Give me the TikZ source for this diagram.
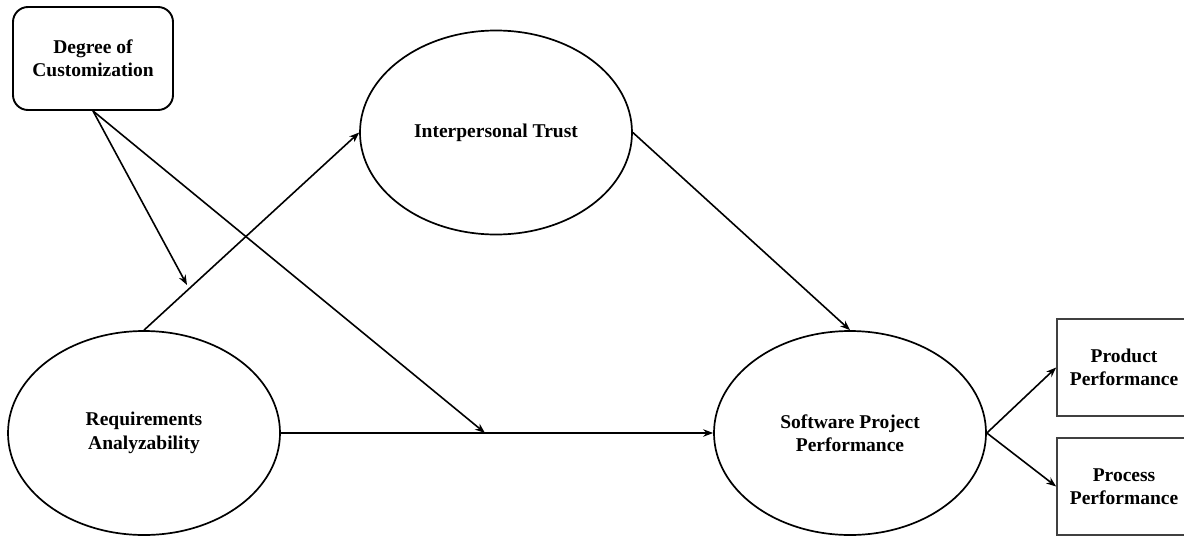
\documentclass[tikz,border=0pt]{standalone}
\usepackage{fontspec}
\setmainfont{Liberation Serif}
\usetikzlibrary{shapes.geometric,arrows.meta}
\tikzset{
  lbl/.style={font=\fontsize{19.5}{23.5}\selectfont\bfseries, align=center},
  construct/.style={ellipse, draw=black, line width=1.7pt, minimum width=272pt, minimum height=204pt, inner sep=0pt, lbl},
  modbox/.style={rectangle, rounded corners=15pt, draw=black, line width=1.9pt, minimum width=160pt, minimum height=103pt, inner sep=0pt, lbl},
  outbox/.style={rectangle, draw=black!75, line width=1.7pt, minimum width=134pt, minimum height=97pt, inner sep=0pt, lbl},
  arr/.style={draw=black, line width=1.6pt, -{Stealth[length=10pt,width=7.5pt]}}
}
\begin{document}
\begin{tikzpicture}[x=1pt,y=-1pt]
\useasboundingbox (0,0) rectangle (1184,536);
\node[modbox] (deg) at (93,58.5) {Degree of\\Customization};
\node[construct] (it) at (496,132.5) {Interpersonal Trust};
\node[construct] (ra) at (144,433) {Requirements\\Analyzability};
\node[construct] (spp) at (850,433) {Software Project\\Performance};
\node[outbox] (prod) at (1124,367.5) {Product\\Performance};
\node[outbox] (proc) at (1124,486.5) {Process\\Performance};
\coordinate (m1) at (187,285);
\coordinate (m2) at (485,433);
\draw[arr] (ra.north) -- (it.west);
\draw[arr] (it.east) -- (spp.north);
\draw[arr] (ra.east) -- (spp.west);
\draw[arr] (deg.south) -- (m1);
\draw[arr] (deg.south) -- (m2);
\draw[arr] (spp.east) -- (prod.west);
\draw[arr] (spp.east) -- (proc.west);
\end{tikzpicture}
\end{document}
